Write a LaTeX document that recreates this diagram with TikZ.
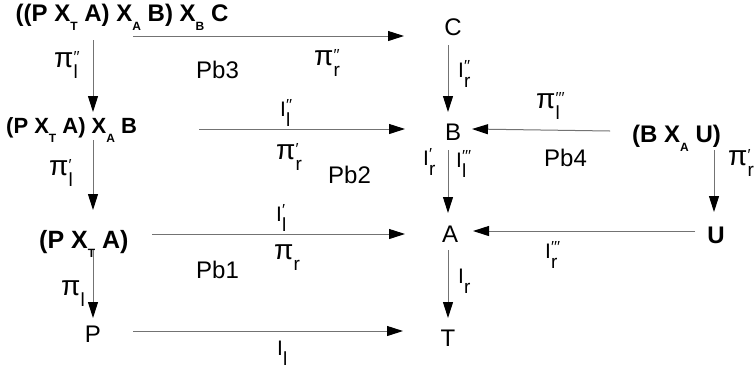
\documentclass[tikz,border=0pt]{standalone}
\usepackage{fontspec}
\setmainfont{Liberation Sans}
\usetikzlibrary{arrows.meta,calc}
\newcommand{\bs}[1]{\raisebox{-9pt}{\fontsize{12}{12}\selectfont\bfseries #1}}
\newcommand{\pil}[2]{{\fontsize{28}{28}\selectfont π}\rlap{\raisebox{5pt}{\fontsize{16}{16}\selectfont #2}}\raisebox{-11pt}{\fontsize{19}{19}\selectfont #1}}
\newcommand{\il}[2]{I\rlap{\raisebox{6pt}{\fontsize{16}{16}\selectfont #2}}\raisebox{-10pt}{\fontsize{19}{19}\selectfont #1}}
\begin{document}
\begin{tikzpicture}[x=1pt,y=-1pt,
  arr/.style={draw=black!55, line width=1pt, -{Triangle[length=16pt,width=10pt,color=black]}},
  bt/.style={font=\fontsize{24}{26}\selectfont\bfseries, inner sep=0pt, anchor=base west},
  lt/.style={font=\fontsize{24}{26}\selectfont, inner sep=0pt, anchor=base},
  lb/.style={font=\fontsize{21}{24}\selectfont, inner sep=0pt, anchor=base west},
  pb/.style={font=\fontsize{24}{26}\selectfont, inner sep=0pt, anchor=base west}]
\fill[white] (0,0) rectangle (755,368);
\useasboundingbox (0,0) rectangle (755,368);
% nodes
\node[bt] (PABC) at (15.5,21) {((P X\bs{T} A) X\bs{A} B) X\bs{B} C};
\node[lt] (C) at (453,35) {C};
\node[bt, font=\fontsize{22}{26}\selectfont\bfseries] (PAB) at (6,133) {(P X\bs{T} A) X\bs{A} B};
\node[lt] (B) at (453,140) {B};
\node[bt] (BAU) at (632,142) {(B X\bs{A} U)};
\node[bt, font=\fontsize{25}{26}\selectfont\bfseries] (PA) at (39,248) {(P X\bs{T} A)};
\node[lt] (A) at (450,242) {A};
\node[lt, font=\fontsize{24}{26}\selectfont\bfseries] (U) at (716,243) {U};
\node[lt] (P) at (93,342) {P};
\node[lt] (T) at (448,346) {T};
% connectors
\draw[arr] ($(PABC.base west)+(117.5,15)$) -- ($(C.base)+(-49,1)$);
\draw[arr] ($(PABC.base west)+(77.5,19)$) -- ($(PAB.base west)+(87,-21)$);
\draw[arr] ($(C.base)+(-5,10)$) -- ($(B.base)+(-5,-28)$);
\draw[arr] ($(PAB.base west)+(193,-4)$) -- ($(B.base)+(-48,-11)$);
\draw[arr] ($(BAU.base west)+(-22,-11)$) -- ($(B.base)+(19,-11)$);
\draw[arr] ($(PAB.base west)+(87,7)$) -- ($(PA.base west)+(54,-38)$);
\draw[arr] ($(B.base)+(-5,10)$) -- ($(A.base)+(-2,-29)$);
\draw[arr] ($(BAU.base west)+(82,8)$) -- ($(U.base)+(-2,-31)$);
\draw[arr] ($(PA.base west)+(113,-14)$) -- ($(A.base)+(-45,-8)$);
\draw[arr] ($(U.base)+(-21,-12)$) -- ($(A.base)+(23,-11)$);
\draw[arr] ($(PA.base west)+(54,2)$) -- ($(P.base)+(0,-24)$);
\draw[arr] ($(A.base)+(-2,8)$) -- ($(T.base)+(0,-28)$);
\draw[arr] ($(P.base)+(40,-11)$) -- ($(T.base)+(-45,-15)$);
% labels
\node[lb] (l1) at (54,67) {\pil{l}{′′}};
\node[lb] (l2) at (314,65) {\pil{r}{′′}};
\node[lb] (l3) at (276,159) {\pil{r}{′}};
\node[lb] (l4) at (536,108) {\pil{l}{′′′}};
\node[lb] (l5) at (49,175) {\pil{l}{′}};
\node[lb] (l6) at (728,165) {\pil{r}{′}};
\node[lb] (l7) at (274,259) {\pil{r}{}};
\node[lb] (l8) at (61,295) {\pil{l}{}};
\node[lb] (m1) at (458,77) {\il{r}{′′}};
\node[lb] (m2) at (280,116) {\il{l}{′′}};
\node[lb] (m3) at (423,165) {\il{r}{′}};
\node[lb] (m4) at (456,167) {\il{l}{′′′}};
\node[lb] (m5) at (276,221) {\il{l}{′}};
\node[lb] (m6) at (545,258) {\il{r}{′′′}};
\node[lb] (m7) at (458,283) {\il{r}{}};
\node[lb] (m8) at (277,355) {\il{l}{}};
\node[pb] (pb3) at (196,78) {Pb3};
\node[pb] (pb2) at (328,183) {Pb2};
\node[pb] (pb4) at (544,166) {Pb4};
\node[pb] (pb1) at (196,278) {Pb1};
\end{tikzpicture}
\end{document}
